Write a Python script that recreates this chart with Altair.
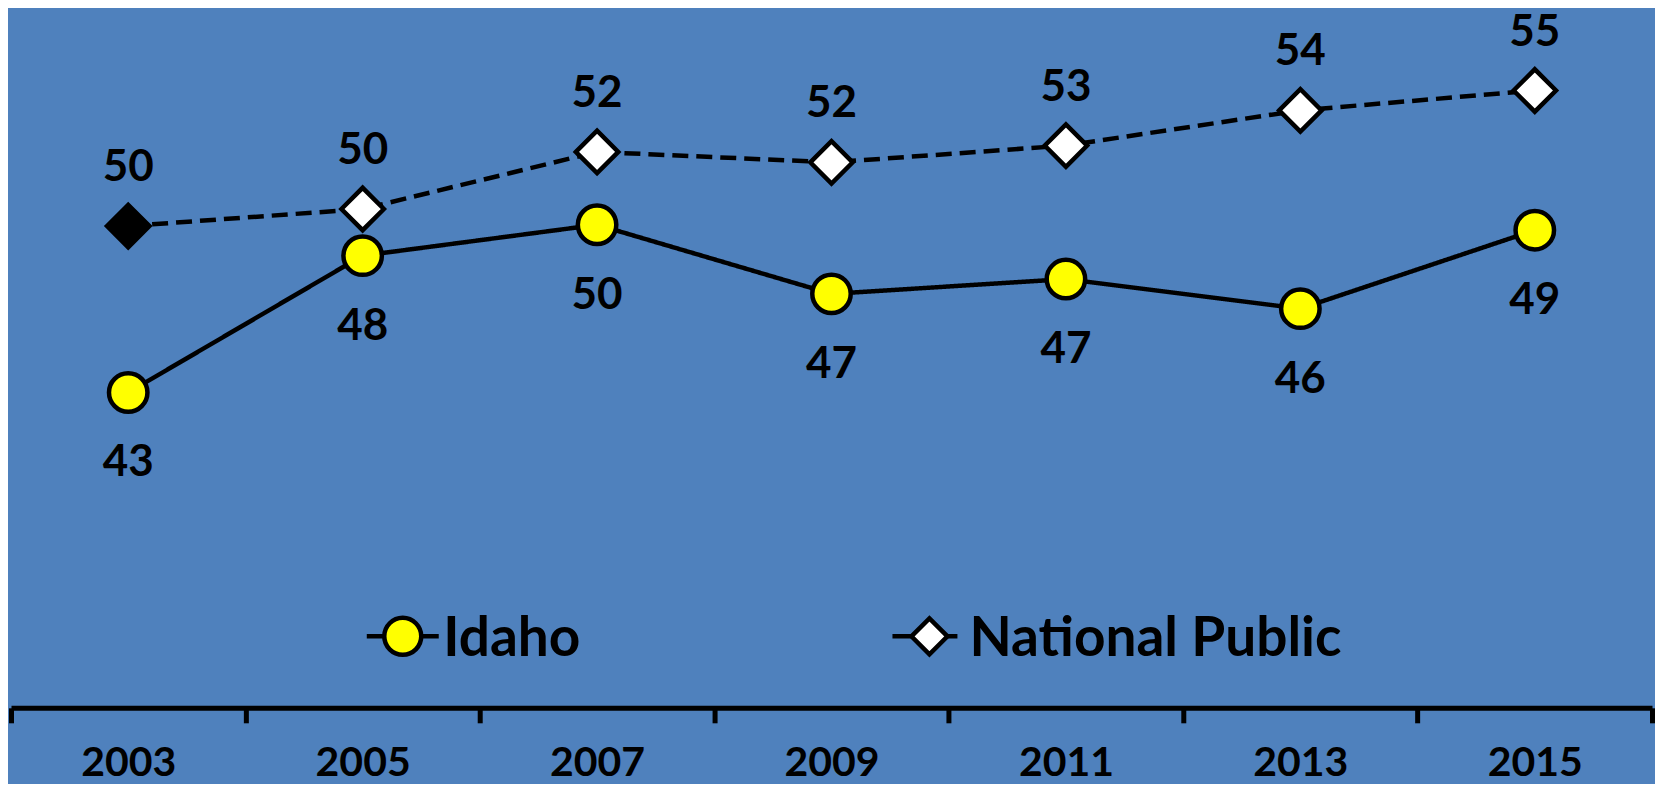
import altair as alt
import pandas as pd

years = ["2003", "2005", "2007", "2009", "2011", "2013", "2015"]
idaho = [43.51, 48.88, 50.09, 47.38, 47.96, 46.80, 49.88]
national = [50.04, 50.71, 52.95, 52.54, 53.20, 54.58, 55.36]
series_names = ["Idaho", "National Public"]

rows = []
for yr, v in zip(years, idaho):
    rows.append({"year": yr, "value": v, "series": "Idaho"})
for yr, v in zip(years, national):
    rows.append({"year": yr, "value": v, "series": "National Public"})
df = pd.DataFrame(rows)

FONT = "Lato"
BG = "#4F81BD"

x = alt.X(
    "year:O",
    sort=years,
    scale=alt.Scale(type="band", paddingInner=0, paddingOuter=0),
    axis=alt.Axis(
        title=None, labelAngle=0, labelFont=FONT, labelFontSize=41, labelFontWeight="bold",
        labelColor="black", domainColor="black", domainWidth=5, tickColor="black",
        tickWidth=5, tickSize=15, tickBand="extent", labelPadding=41,
        labelBaseline="middle", grid=False,
    ),
)
y = alt.Y("value:Q", scale=alt.Scale(domain=[31.137, 58.588], nice=False, zero=False), axis=None)

base = alt.Chart(df)

lines = base.mark_line(color="black", strokeWidth=4.5).encode(
    x=x, y=y,
    strokeDash=alt.StrokeDash("series:N", scale=alt.Scale(domain=series_names, range=[[1, 0], [16, 8]]), legend=None),
    detail="series:N",
)

idaho_pts = base.transform_filter("datum.series == 'Idaho'").mark_point(
    shape="circle", filled=True, fill="#FFFF00", stroke="black", strokeWidth=4.5, size=1480, opacity=1
).encode(x=x, y=y)

nat_pts = base.transform_filter("datum.series == 'National Public'").mark_point(
    shape="diamond", filled=True, stroke="black", strokeWidth=4.5, size=1800, opacity=1
).encode(
    x=x, y=y,
    fill=alt.condition("datum.year == '2003'", alt.value("black"), alt.value("white")),
)

idaho_text = base.transform_filter("datum.series == 'Idaho'").transform_calculate(
    label="floor(datum.value)"
).mark_text(font=FONT, fontSize=44, fontWeight="bold", color="black", baseline="middle", dy=71).encode(
    x=x, y=y, text="label:N"
)

nat_text = base.transform_filter("datum.series == 'National Public'").transform_calculate(
    label="floor(datum.value)"
).mark_text(font=FONT, fontSize=44, fontWeight="bold", color="black", baseline="middle", dy=-58).encode(
    x=x, y=y, text="label:N"
)

# legend (drawn inside the plot area, like the original)
LEG_Y = 628.5
legend_layout = [
    # name, symbol shape, symbol fill, symbol size, stub start, stub end, symbol x, text x
    (series_names[0], "circle", "#FFFF00", 1369, 356, 428, 392, 432.5),
    (series_names[1], "diamond", "#FFFFFF", 1300, 882, 947, 919, 959),
]
legend_layers = []
for name, shp, fill, sz, xa, xb, xs, xt in legend_layout:
    d = pd.DataFrame({"name": [name]})
    legend_layers.append(
        alt.Chart(d).mark_rule(color="black", strokeWidth=4.5).encode(
            x=alt.value(xa), x2=alt.value(xb), y=alt.value(LEG_Y)
        )
    )
    legend_layers.append(
        alt.Chart(d).mark_point(
            shape=shp, filled=True, fill=fill, stroke="black", strokeWidth=4.5, size=sz, opacity=1
        ).encode(x=alt.value(xs), y=alt.value(LEG_Y))
    )
    legend_layers.append(
        alt.Chart(d).mark_text(
            font=FONT, fontSize=55, fontWeight="bold", color="black", align="left", baseline="middle", dy=3
        ).encode(x=alt.value(xt), y=alt.value(LEG_Y), text="name:N")
    )

chart = alt.layer(lines, idaho_pts, nat_pts, idaho_text, nat_text, *legend_layers).properties(
    width=1642, height=700, background=BG, padding=0,
).configure_view(stroke=None)

chart.save("out.html", embed_options={"renderer": "svg", "actions": False})
